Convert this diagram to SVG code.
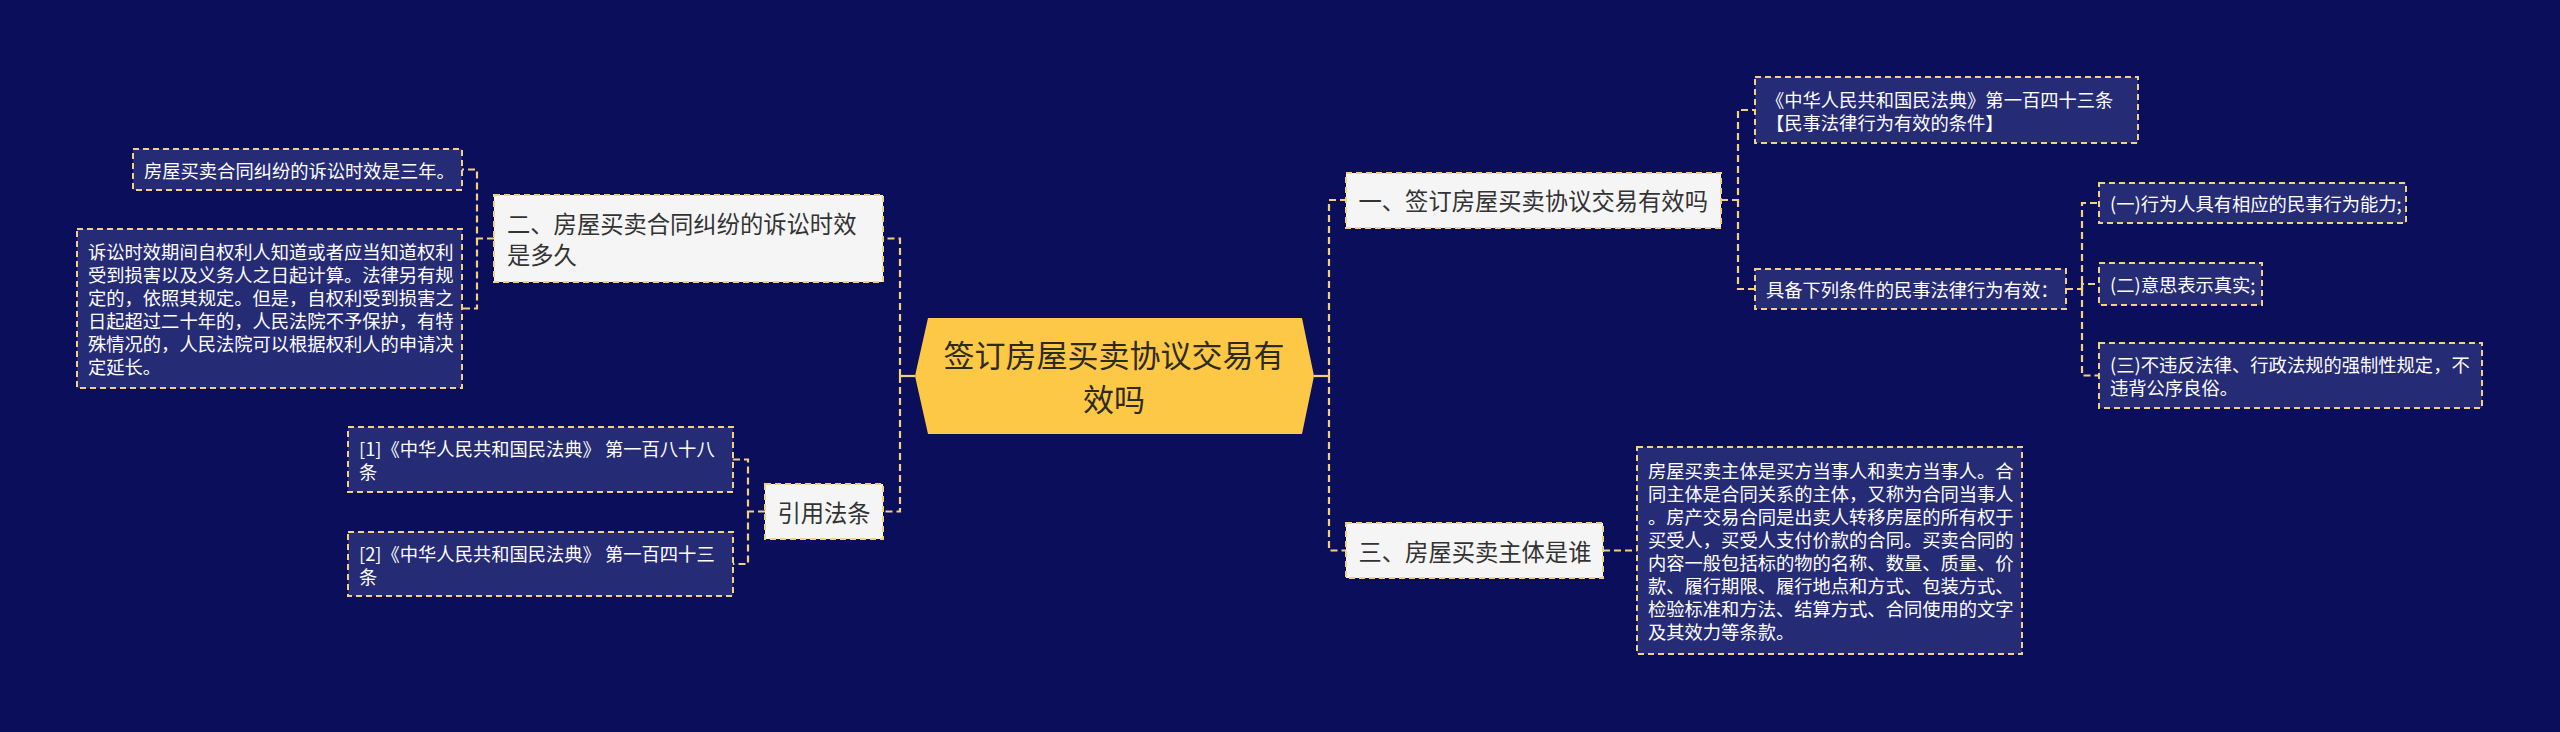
<svg xmlns="http://www.w3.org/2000/svg" width="2560" height="732" viewBox="0 0 2560 732">
<style>
text{font-family:"Noto Sans CJK SC","Noto Sans",sans-serif;dominant-baseline:central}
.leaf rect{fill:#262b76;stroke:#f3d182;stroke-width:2;stroke-dasharray:6 4}
.leaf text{fill:#ffffff;font-size:18.3px}
.main rect{fill:#f5f5f5;stroke:#f3d182;stroke-width:2;stroke-dasharray:6 4}
.main text{fill:#333333;font-size:23.3px}
.conn path{fill:none;stroke:#f3d07c;stroke-width:2.2;stroke-dasharray:7 4}
.conn line{stroke:#f3d07c;stroke-width:2.2}
</style>
<rect x="0" y="0" width="2560" height="732" fill="#0a0e5b"/>

<g id="connectors" class="conn">
  <line x1="915" y1="376" x2="900" y2="376"/>
  <line x1="1314" y1="376" x2="1329" y2="376"/>
  <path d="M900 376 V238.5 H883"/>
  <path d="M900 376 V511.5 H883"/>
  <path d="M1329 376 V200 H1346"/>
  <path d="M1329 376 V550.5 H1346"/>
  <path d="M494 238.5 H477 V169.5 H462"/>
  <path d="M477 238.5 V308.5 H462"/>
  <path d="M765 511.5 H748 V459.5 H733"/>
  <path d="M748 511.5 V564 H733"/>
  <path d="M1721 200 H1738 V110 H1755"/>
  <path d="M1738 200 V289 H1755"/>
  <path d="M2066 289 H2082 V203 H2099"/>
  <path d="M2082 289 V284 H2099"/>
  <path d="M2082 289 V375.5 H2099"/>
  <path d="M1603 550.5 H1637"/>
</g>

<g id="root">
  <polygon points="915,376 928,318 1302,318 1314,376 1302,434 928,434" fill="#fcc846"/>
  <text x="1114" y="353" text-anchor="middle" font-size="31" fill="#2e2a1e">签订房屋买卖协议交易有</text>
  <text x="1114" y="397" text-anchor="middle" font-size="31" fill="#2e2a1e">效吗</text>
</g>

<g id="node-er" class="main">
  <rect x="494" y="195" width="389" height="87"/>
  <text x="507" y="223">二、房屋买卖合同纠纷的诉讼时效</text>
  <text x="507" y="254">是多久</text>
</g>

<g id="leaf-er-1" class="leaf">
  <rect x="133" y="149" width="329" height="41"/>
  <text x="144" y="169.5">房屋买卖合同纠纷的诉讼时效是三年。</text>
</g>

<g id="leaf-er-2" class="leaf">
  <rect x="77" y="229" width="385" height="159"/>
  <text x="88" y="251">诉讼时效期间自权利人知道或者应当知道权利</text>
  <text x="88" y="274">受到损害以及义务人之日起计算。法律另有规</text>
  <text x="88" y="297">定的，依照其规定。但是，自权利受到损害之</text>
  <text x="88" y="320">日起超过二十年的，人民法院不予保护，有特</text>
  <text x="88" y="343">殊情况的，人民法院可以根据权利人的申请决</text>
  <text x="88" y="366">定延长。</text>
</g>

<g id="node-cite" class="main">
  <rect x="765" y="484" width="118" height="55"/>
  <text x="824" y="511.5" text-anchor="middle">引用法条</text>
</g>

<g id="leaf-cite-1" class="leaf">
  <rect x="348" y="427" width="385" height="65"/>
  <text x="359" y="448">[1]《中华人民共和国民法典》 第一百八十八</text>
  <text x="359" y="471">条</text>
</g>

<g id="leaf-cite-2" class="leaf">
  <rect x="348" y="532" width="385" height="64"/>
  <text x="359" y="552.5">[2]《中华人民共和国民法典》 第一百四十三</text>
  <text x="359" y="575.5">条</text>
</g>

<g id="node-yi" class="main">
  <rect x="1346" y="173" width="375" height="55"/>
  <text x="1358.5" y="200">一、签订房屋买卖协议交易有效吗</text>
</g>

<g id="leaf-law" class="leaf">
  <rect x="1755" y="77" width="383" height="66"/>
  <text x="1766" y="98.5">《中华人民共和国民法典》第一百四十三条</text>
  <text x="1766" y="121.5">【民事法律行为有效的条件】</text>
</g>

<g id="leaf-cond" class="leaf">
  <rect x="1755" y="269" width="311" height="40"/>
  <text x="1766" y="289">具备下列条件的民事法律行为有效：</text>
</g>

<g id="leaf-cond-1" class="leaf">
  <rect x="2099" y="183" width="307" height="40"/>
  <text x="2110" y="203">(一)行为人具有相应的民事行为能力;</text>
</g>

<g id="leaf-cond-2" class="leaf">
  <rect x="2099" y="263" width="163" height="42"/>
  <text x="2110" y="284">(二)意思表示真实;</text>
</g>

<g id="leaf-cond-3" class="leaf">
  <rect x="2099" y="343" width="383" height="65"/>
  <text x="2110" y="364">(三)不违反法律、行政法规的强制性规定，不</text>
  <text x="2110" y="387">违背公序良俗。</text>
</g>

<g id="node-san" class="main">
  <rect x="1346" y="523" width="257" height="55"/>
  <text x="1358.5" y="550.5">三、房屋买卖主体是谁</text>
</g>

<g id="leaf-san" class="leaf">
  <rect x="1637" y="447" width="385" height="207"/>
  <text x="1648" y="470">房屋买卖主体是买方当事人和卖方当事人。合</text>
  <text x="1648" y="493">同主体是合同关系的主体，又称为合同当事人</text>
  <text x="1648" y="516">。房产交易合同是出卖人转移房屋的所有权于</text>
  <text x="1648" y="539">买受人，买受人支付价款的合同。买卖合同的</text>
  <text x="1648" y="562">内容一般包括标的物的名称、数量、质量、价</text>
  <text x="1648" y="585">款、履行期限、履行地点和方式、包装方式、</text>
  <text x="1648" y="608">检验标准和方法、结算方式、合同使用的文字</text>
  <text x="1648" y="631">及其效力等条款。</text>
</g>
</svg>
